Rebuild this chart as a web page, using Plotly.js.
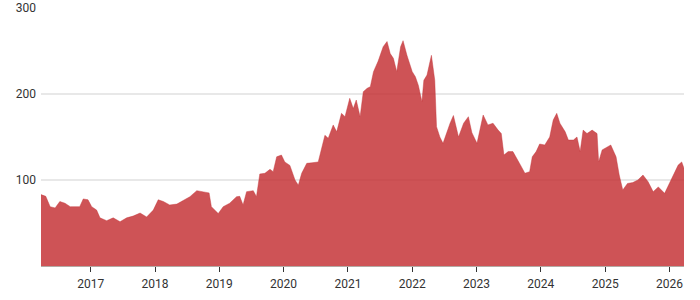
<!DOCTYPE html>
<html>
<head>
<meta charset="utf-8">
<script src="https://cdn.plot.ly/plotly-3.0.1.min.js"></script>
<style>html,body{margin:0;padding:0;background:#fff;}#chart{width:700px;height:300px;}</style>
</head>
<body>
<div id="chart"></div>
<script>
const dates = [
"2016-03-24","2016-04-20","2016-05-15","2016-06-12","2016-07-09","2016-08-07","2016-09-06","2016-10-30","2016-11-19","2016-12-16",
"2017-01-06","2017-02-03","2017-02-22","2017-04-01","2017-05-08","2017-06-16","2017-07-24","2017-08-29","2017-10-08","2017-11-14","2017-12-22",
"2018-01-19","2018-02-17","2018-03-25","2018-05-05","2018-06-01","2018-07-18","2018-08-26","2018-09-24","2018-11-04","2018-11-17","2018-12-26",
"2019-01-23","2019-03-01","2019-04-09","2019-04-27","2019-05-16","2019-06-05","2019-07-13","2019-07-31","2019-08-19","2019-09-17","2019-10-16","2019-11-03","2019-11-23","2019-12-20",
"2020-01-08","2020-02-06","2020-03-06","2020-03-25","2020-04-13","2020-05-12","2020-06-10","2020-07-16","2020-08-23","2020-09-11","2020-10-09","2020-10-29","2020-11-25","2020-12-15",
"2021-01-11","2021-01-31","2021-02-17","2021-03-11","2021-03-29","2021-04-20","2021-05-08","2021-05-26","2021-06-21","2021-07-20","2021-08-11","2021-08-29","2021-09-16","2021-10-05","2021-10-27","2021-11-10","2021-12-02",
"2022-01-01","2022-01-19","2022-02-05","2022-02-25","2022-03-08","2022-03-26","2022-04-20","2022-05-09","2022-05-19","2022-06-07","2022-06-25","2022-08-04","2022-08-23","2022-09-21","2022-10-20","2022-11-16","2022-12-06",
"2023-01-04","2023-02-08","2023-03-07","2023-04-05","2023-05-04","2023-05-22","2023-06-06","2023-06-30","2023-07-27","2023-08-25","2023-09-13","2023-10-03","2023-10-30","2023-11-14","2023-12-06","2023-12-26",
"2024-01-24","2024-02-21","2024-03-12","2024-04-01","2024-04-19","2024-05-19","2024-06-06","2024-07-05","2024-07-25","2024-08-12","2024-08-29","2024-09-20","2024-10-19","2024-11-16","2024-11-25","2024-12-15",
"2025-01-13","2025-02-02","2025-03-04","2025-03-22","2025-04-11","2025-05-08","2025-06-07","2025-07-06","2025-08-04","2025-09-02","2025-10-01","2025-10-30","2025-12-05",
"2026-01-04","2026-02-02","2026-02-20","2026-03-12","2026-03-25"
];
const prices = [
83,81,69,67.5,75,73,69,69,78,77,
69,65,56,52.7,56,51.5,56,58,61.6,57,65,
77,75,71,72,75,80.6,87.6,86.4,85,69,61,
69,73,80.6,81,71,86.4,87.6,80.6,107,107.8,112.4,109.7,127,129,
121,117,100,94,107.8,119.4,120,121,152,148.5,164,156,177.5,173.6,
195,183,193,173.6,202.7,206.6,208.5,226,238,255,261,247,241.5,226,255,262,245,
226,220,210,191,216,222,245,216,162,150,142.6,166,175,150,166,173.6,155,
142.6,175.6,164,166,158,154,129,133,133,123,115.5,107.8,109.7,127,133,141.9,
140.7,150,169.8,177.5,166,156,146.5,146.5,150,133,158,154,158,154,121,135,
138.7,140.7,127,105.8,88.4,96,97,100,105.8,98,86.4,92,84.5,
98,109.7,117.4,121,113.6
];
const yTicks = [100, 200, 300];
const xTickVals = ["2017-01-01","2018-01-01","2019-01-01","2020-01-01","2021-01-01","2022-01-01","2023-01-01","2024-01-01","2025-01-01","2026-01-01"];
const xTickText = ["2017","2018","2019","2020","2021","2022","2023","2024","2025","2026"];

const trace = {
  x: dates, y: prices, type: 'scatter', mode: 'lines',
  fill: 'tozeroy',
  fillcolor: 'rgba(196,48,52,0.83)',
  line: {color: 'rgba(196,48,52,0.83)', width: 0.5},
  hoverinfo: 'x+y'
};
const layout = {
  width: 700, height: 300,
  margin: {l: 41, r: 16, t: 8, b: 34},
  paper_bgcolor: '#fff', plot_bgcolor: '#fff',
  showlegend: false,
  font: {family: 'Roboto, "Open Sans", sans-serif', size: 12, color: '#333'},
  xaxis: {
    type: 'date',
    range: [dates[0], dates[dates.length - 1]],
    tickvals: xTickVals, ticktext: xTickText,
    ticks: 'outside', ticklen: 5, tickcolor: '#333', tickwidth: 1,
    ticklabelstandoff: 2,
    showgrid: false, zeroline: false,
    showline: true, linecolor: '#b3aaa4', linewidth: 1,
    tickfont: {size: 12, color: '#333'}
  },
  yaxis: {
    range: [0, 300],
    tickvals: yTicks,
    ticks: '', showgrid: true, gridcolor: '#e8e8e8', gridwidth: 1.5,
    zeroline: false, showline: false,
    tickfont: {size: 12, color: '#333'},
    ticklabelstandoff: 4
  }
};
Plotly.newPlot('chart', [trace], layout, {displayModeBar: false, staticPlot: true});
</script>
</body>
</html>
